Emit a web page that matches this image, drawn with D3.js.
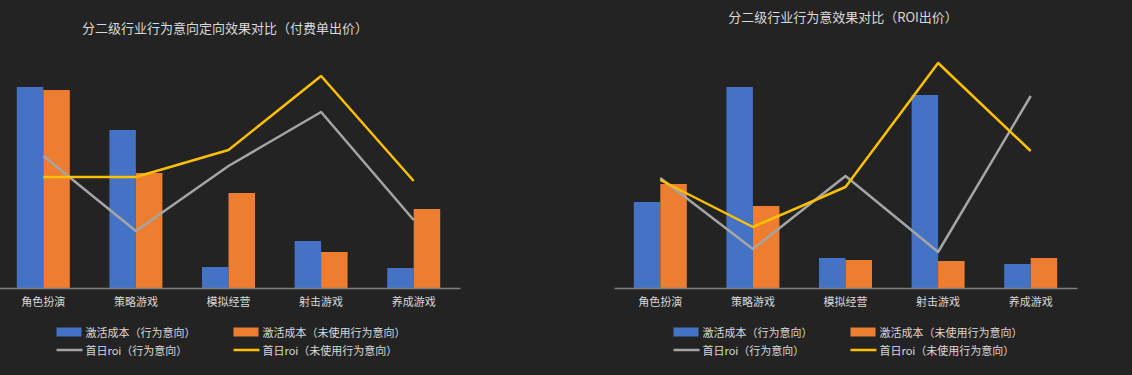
<!DOCTYPE html>
<html>
<head>
  <meta charset="UTF-8" />
  <style>
    body { margin: 0; background: #232323; }
    svg { display: block; font-family: "Noto Sans CJK SC", "Noto Sans", sans-serif; }
  </style>
  <script src="https://d3js.org/d3.v7.min.js"></script>
</head>
<body>
  <script>
    /* categories and series */
    let categories = ["角色扮演", "策略游戏", "模拟经营", "射击游戏", "养成游戏"];
    let seriesNames = ["激活成本（行为意向）", "激活成本（未使用行为意向）", "首日roi（行为意向）", "首日roi（未使用行为意向）"];

    /* left: 付费单出价 */
    let costIntentA = [100.5, 79, 10.5, 23.5, 10];
    let costNoIntentA = [99, 57.5, 47.5, 18, 39.5];
    let roiIntentA = [66, 28.5, 61, 88, 34];
    let roiNoIntentA = [55.5, 55.5, 69, 106, 53.5];

    /* right: ROI出价 */
    let costIntentB = [43, 100.5, 15, 96.5, 12];
    let costNoIntentB = [52, 41, 14, 13.5, 15];
    let roiIntentB = [55, 19.5, 56, 18, 96];
    let roiNoIntentB = [54, 30.5, 50.5, 112.5, 68.5];

    let colors = ["#4472c4", "#ed7d31", "#a5a5a5", "#ffc000"];

    let svg = d3.select("body")
      .append("svg")
      .attr("width", 1132)
      .attr("height", 375);

    function drawChart(opts) {
      let g = svg.append("g");

      /* title */
      g.append("text")
        .attr("x", opts.titleX)
        .attr("y", opts.titleY)
        .attr("text-anchor", "middle")
        .attr("dominant-baseline", "central")
        .attr("fill", "#d9d9d9")
        .style("font-size", "13px")
        .text(opts.title);

      let x = d3.scaleBand()
        .domain(categories)
        .range([opts.x0, opts.x1]);
      let inner = d3.scaleBand()
        .domain([0, 1])
        .range([0, 53])
        .paddingInner(0);
      let y = d3.scaleLinear().domain([0, 120]).range([288, 48]);
      let yRoi = d3.scaleLinear().domain([0, 120]).range([288, 48]);

      /* bars */
      let barSeries = [opts.cost1, opts.cost2];
      barSeries.forEach((vals, si) => {
        g.append("g")
          .selectAll("rect")
          .data(vals)
          .enter()
          .append("rect")
          .attr("x", (d, i) => x(categories[i]) + x.bandwidth() / 2 - 26.5 + inner(si))
          .attr("y", d => y(d))
          .attr("width", inner.bandwidth())
          .attr("height", d => y(0) - y(d))
          .attr("fill", colors[si]);
      });

      /* x axis */
      let axis = g.append("g")
        .attr("transform", "translate(0,288)")
        .call(d3.axisBottom(x).tickSize(0).tickPadding(10));
      axis.select(".domain").attr("stroke", "#7f7f7f").attr("stroke-width", 1.5);
      axis.selectAll("text")
        .attr("fill", "#d9d9d9")
        .style("font-size", "11px")
        .style("font-family", "\"Noto Sans CJK SC\", sans-serif");

      /* lines */
      let line = d3.line()
        .x((d, i) => x(categories[i]) + x.bandwidth() / 2)
        .y(d => yRoi(d));
      [opts.roi1, opts.roi2].forEach((vals, si) => {
        g.append("path")
          .datum(vals)
          .attr("d", line)
          .attr("fill", "none")
          .attr("stroke", colors[si + 2])
          .attr("stroke-width", 2.5)
          .attr("stroke-linejoin", "round");
      });

      /* legend */
      let cx = (opts.x0 + opts.x1) / 2;
      let cols = [cx - 172, cx + 5];
      let rows = [332, 350];
      seriesNames.forEach((name, i) => {
        let lx = cols[i % 2];
        let ly = rows[Math.floor(i / 2)];
        if (i < 2) {
          g.append("rect")
            .attr("x", lx).attr("y", ly - 4.5)
            .attr("width", 25).attr("height", 9)
            .attr("fill", colors[i]);
        } else {
          g.append("line")
            .attr("x1", lx).attr("x2", lx + 26)
            .attr("y1", ly).attr("y2", ly)
            .attr("stroke", colors[i])
            .attr("stroke-width", 2.5);
        }
        g.append("text")
          .attr("x", lx + 29)
          .attr("y", ly)
          .attr("dominant-baseline", "central")
          .attr("fill", "#d9d9d9")
          .style("font-size", "11px")
          .text(name);
      });
    }

    drawChart({
      title: "分二级行业行为意向定向效果对比（付费单出价）",
      titleX: 225, titleY: 27,
      x0: -3, x1: 460,
      cost1: costIntentA, cost2: costNoIntentA,
      roi1: roiIntentA, roi2: roiNoIntentA
    });

    drawChart({
      title: "分二级行业行为意效果对比（ROI出价）",
      titleX: 843, titleY: 16,
      x0: 614, x1: 1077,
      cost1: costIntentB, cost2: costNoIntentB,
      roi1: roiIntentB, roi2: roiNoIntentB
    });
  </script>
</body>
</html>
